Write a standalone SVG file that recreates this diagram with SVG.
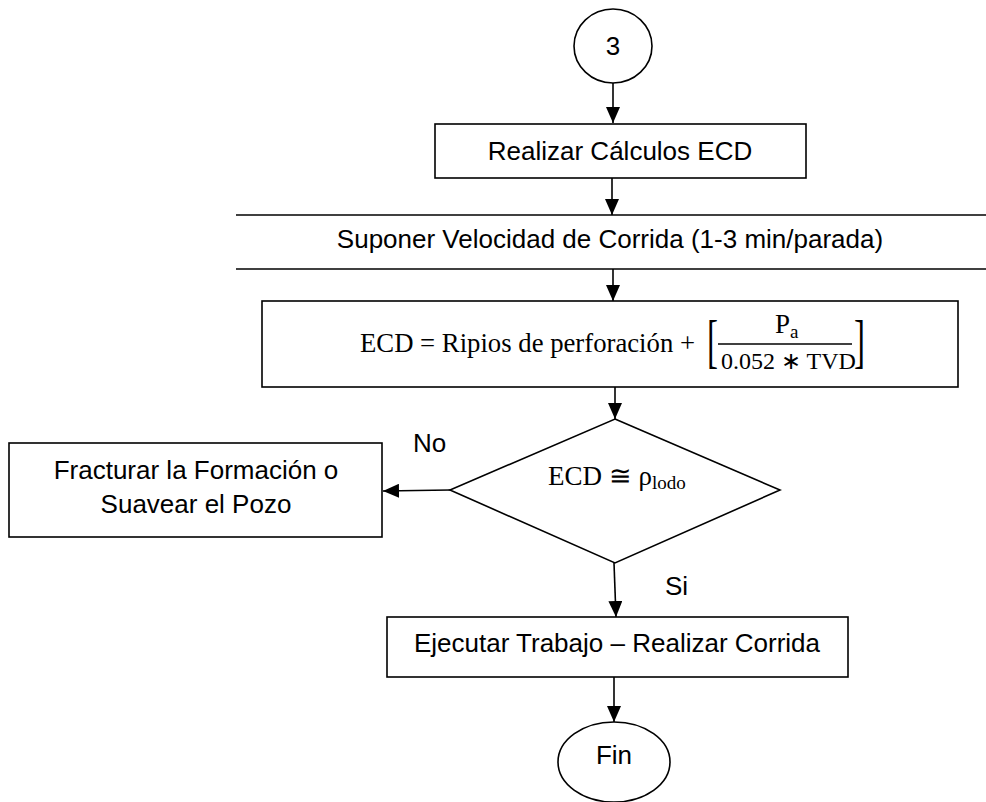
<svg xmlns="http://www.w3.org/2000/svg" width="986" height="802" viewBox="0 0 986 802">
<style>
.shape{fill:#fff;stroke:#000;stroke-width:1.6}
.line{fill:none;stroke:#000;stroke-width:1.6}
.t{font-family:"Liberation Sans",Arial,sans-serif;font-size:26px;fill:#000}
.m{font-family:"Liberation Serif","Times New Roman",serif;fill:#000}
.conn{fill:none;stroke:#000;stroke-width:1.6}
</style>
<defs>
<marker id="ah" markerUnits="userSpaceOnUse" markerWidth="16" markerHeight="14" refX="16" refY="7" orient="auto">
<path d="M0,0 L16,7 L0,14 z" fill="#000"/>
</marker>
</defs>
<rect width="986" height="802" fill="#fff"/>
<g id="connectors">
<line class="conn" x1="613" y1="83" x2="613" y2="123" marker-end="url(#ah)"/>
<line class="conn" x1="612" y1="178" x2="612" y2="215" marker-end="url(#ah)"/>
<line class="conn" x1="613" y1="269" x2="613" y2="301" marker-end="url(#ah)"/>
<line class="conn" x1="615" y1="387" x2="615" y2="419" marker-end="url(#ah)"/>
<line class="conn" x1="450" y1="490" x2="383" y2="491" marker-end="url(#ah)"/>
<line class="conn" x1="614" y1="563" x2="616" y2="617" marker-end="url(#ah)"/>
<line class="conn" x1="614" y1="677" x2="614" y2="722" marker-end="url(#ah)"/>
<text class="t" x="413" y="452">No</text>
<text class="t" x="665" y="595">Si</text>
</g>
<g id="start">
<ellipse class="shape" cx="613" cy="46" rx="39" ry="37"/>
<text class="t" x="613" y="55" text-anchor="middle" font-size="27">3</text>
</g>
<g id="calc">
<rect class="shape" x="435" y="124" width="371" height="54"/>
<text class="t" x="620" y="160" text-anchor="middle">Realizar Cálculos ECD</text>
</g>
<g id="velocidad">
<line class="line" x1="236" y1="215" x2="986" y2="215"/>
<line class="line" x1="236" y1="269" x2="986" y2="269"/>
<text class="t" x="610" y="248" text-anchor="middle">Suponer Velocidad de Corrida (1-3 min/parada)</text>
</g>
<g id="formula">
<rect class="shape" x="262" y="301" width="696" height="86"/>
<text class="m" x="360" y="352" font-size="27" textLength="335" lengthAdjust="spacingAndGlyphs">ECD = Ripios de perforación +</text>
<text class="m" transform="translate(707,361) scale(0.55,1)" font-size="60">[</text>
<text class="m" transform="translate(854,361) scale(0.55,1)" font-size="60">]</text>
<line class="line" x1="718" y1="344" x2="852" y2="344"/>
<text class="m" x="775" y="333" font-size="27">P<tspan font-size="19" dy="5">a</tspan></text>
<text class="m" x="721" y="369" font-size="24">0.052 ∗ TVD</text>
</g>
<g id="decision">
<polygon class="shape" points="615,419 780,490 615,563 450,490"/>
<text class="m" x="548" y="485" font-size="27">ECD ≅ ρ<tspan font-size="19" dy="4">lodo</tspan></text>
</g>
<g id="fracturar">
<rect class="shape" x="9" y="443" width="373" height="94"/>
<text class="t" x="196" y="479" text-anchor="middle">Fracturar la Formación o</text>
<text class="t" x="196" y="513" text-anchor="middle">Suavear el Pozo</text>
</g>
<g id="ejecutar">
<rect class="shape" x="387" y="617" width="461" height="60"/>
<text class="t" x="617" y="652" text-anchor="middle">Ejecutar Trabajo – Realizar Corrida</text>
</g>
<g id="fin">
<ellipse class="shape" cx="614" cy="762" rx="56" ry="40"/>
<text class="t" x="614" y="764" text-anchor="middle">Fin</text>
</g>
</svg>
